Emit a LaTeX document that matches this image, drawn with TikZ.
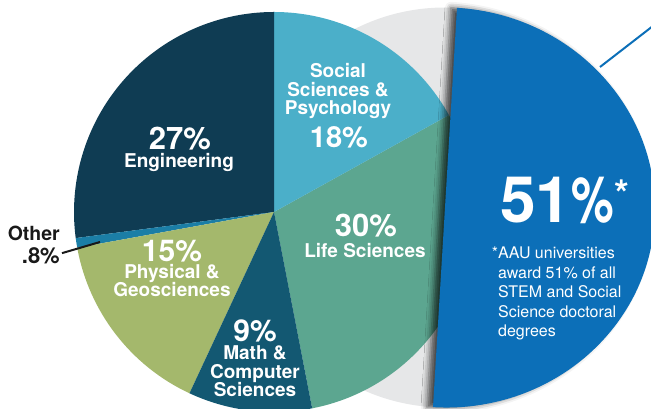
\documentclass[tikz,border=0pt]{standalone}
\usepackage{fontspec}
\setmainfont{TeX Gyre Heros}
\usetikzlibrary{shadows.blur}

\definecolor{engnavy}{HTML}{0F3C53}
\definecolor{socblue}{HTML}{4BAFC9}
\definecolor{lifegreen}{HTML}{5CA690}
\definecolor{physolive}{HTML}{A4B86C}
\definecolor{mathteal}{HTML}{135872}
\definecolor{otherblue}{HTML}{1B7EA6}
\definecolor{aaublue}{HTML}{0C6FB8}
\definecolor{backgrey}{HTML}{E6E7E8}

\begin{document}
\begin{tikzpicture}[x=1pt, y=1pt,
    pct/.style={text=white, inner sep=0pt, anchor=base, font=\bfseries\fontsize{31}{31}\selectfont},
    catname/.style={text=white, inner sep=0pt, anchor=base, align=center, font=\bfseries\fontsize{19}{18.5}\selectfont},
    leader/.style={line width=2pt}]
  \useasboundingbox (0,0) rectangle (651,409);
  \clip (0,0) rectangle (651,409);
  % grey disc behind everything
  \fill[backgrey] (445,201.5) circle (200);
  % the pie
  \coordinate (O) at (274,197);
  \foreach \a/\b/\c in {-79/29/lifegreen, 29/90/socblue, 90/187.5/engnavy, 187.5/190.3/otherblue, 190.3/245/physolive, 245/281/mathteal}
    \fill[\c] (O) -- ++(\a:200) arc[start angle=\a, end angle=\b, radius=200] -- cycle;
  % the 51% half pulled out
  \begin{scope}[shift={(445,201.5)}, rotate=-3.44]
    \fill[aaublue, blur shadow={shadow xshift=-6pt, shadow yshift=0pt, shadow blur radius=6pt, shadow opacity=70}]
      (0,200) arc[start angle=90, end angle=-90, x radius=210, y radius=200] -- cycle;
  \end{scope}
  \coordinate (tickin) at (600,342);
  \coordinate (tickout) at (662,390);
  \draw[aaublue, line width=2pt] (tickin) -- (tickout);

  % labels (base = last line)
  \node[pct] (engpct) at (180,259) {27\%};
  \node[catname] (engname) at (179,241) {Engineering};
  \node[catname] (socname) at (338,294) {Social\\Sciences \&\\Psychology};
  \node[pct, font=\bfseries\fontsize{29}{29}\selectfont] (socpct) at (339,261) {18\%};
  \node[pct] (lifepct) at (366,172) {30\%};
  \node[catname] (lifename) at (365,151) {Life Sciences};
  \node[pct, font=\bfseries\fontsize{30}{30}\selectfont] (physpct) at (172,147) {15\%};
  \node[catname] (physname) at (172,112) {Physical \&\\Geosciences};
  \node[pct, font=\bfseries\fontsize{30}{30}\selectfont] (mathpct) at (255,67) {9\%};
  \node[catname] (mathname) at (255,12) {Math \&\\Computer\\Sciences};

  \node[anchor=north east, align=right, inner sep=0pt, text=black!90, font=\bfseries\fontsize{19.5}{23}\selectfont] (othlbl) at (60,183) {Other\\{\fontsize{22}{23}\selectfont .8\%}};
  \coordinate (othtip) at (100,167);
  \draw[leader, black!90] ([xshift=2pt,yshift=-8pt]othlbl.east) -- (othtip);

  \node[anchor=base west, inner sep=0pt, text=white, font=\bfseries\fontsize{64}{64}\selectfont] (big) at (500,186) {51\scalebox{0.75}[1]{\%}\raisebox{15pt}{\fontsize{38}{38}\selectfont *}};
  \node[anchor=north west, align=left, inner sep=0pt, text=white, font=\fontsize{16}{19.5}\selectfont] (note) at (498,162) {\llap{*}AAU universities\\award 51\% of all\\STEM and Social\\Science doctoral\\degrees};
\end{tikzpicture}
\end{document}
